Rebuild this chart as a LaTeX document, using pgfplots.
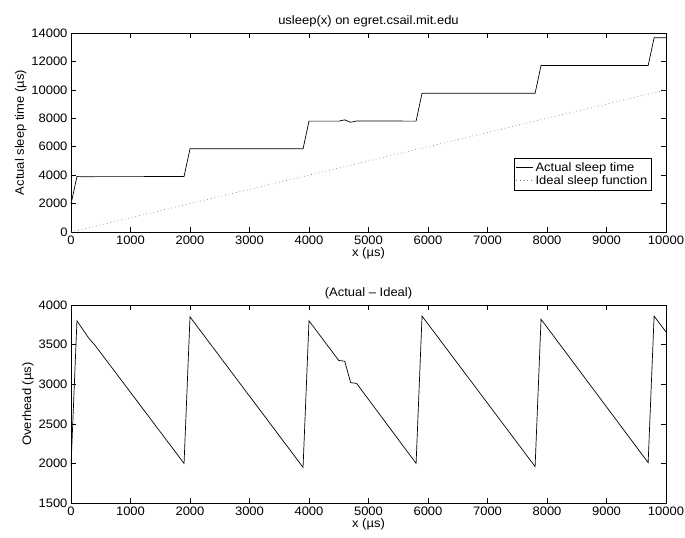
\documentclass[border=0pt]{standalone}
\usepackage{pgfplots}
\pgfplotsset{compat=1.18}
\usepackage{fontspec}
\setmainfont{Liberation Sans}[FakeStretch=1.06]

\pgfplotsset{
  mstyle/.style={
    scale only axis,
    width=595bp,
    xmin=0, xmax=10000,
    xtick={0,1000,...,10000},
    tick align=inside,
    tick pos=both,
    major tick length=5bp,
    scaled ticks=false,
    /pgf/number format/1000 sep={},
    /pgf/number format/assume math mode=true,
    tick label style={font=\fontsize{12.3}{14}\selectfont},
    label style={font=\fontsize{12.3}{14}\selectfont},
    title style={font=\fontsize{12.3}{14}\selectfont},
    axis line style={line width=0.8pt},
    every tick/.style={line width=0.6pt, black},
    xlabel={x (µs)},
    xlabel style={yshift=3bp},
    ylabel style={yshift=-2bp},
  }
}

\begin{document}
\begin{tikzpicture}
\useasboundingbox (-71bp,33bp) rectangle (614bp,-505bp);

\begin{axis}[mstyle,
  name=top, at={(0,0)}, anchor=north west,
  height=199bp,
  ymin=0, ymax=14000,
  ytick={0,2000,...,14000},
  ylabel={Actual sleep time (µs)},
  title={usleep(x) on egret.csail.mit.edu},
  title style={yshift=-4bp},
  legend style={at={(0.976,0.21)}, anchor=south east, draw=black, line width=0.6pt,
    font=\fontsize{12.3}{14}\selectfont, inner sep=2bp, row sep=-1bp},
  legend cell align=left,
]
\addplot[black, line width=0.7pt] coordinates {
(0,1960) (100,3900) (300,3880) (400,3895) (1900,3900) (2000,5850) (3900,5850)
(4000,7800) (4500,7800) (4600,7890) (4700,7720) (4800,7810) (5800,7800)
(5900,9760) (7800,9760) (7900,11720) (9700,11710) (9800,13660) (10000,13660)
};
\addlegendentry{Actual sleep time}
\addplot[gray, line width=0.7pt, dash pattern=on 0.7pt off 3pt] coordinates {
(0,0) (10000,10000)
};
\addlegendentry{Ideal sleep function}
\end{axis}

\begin{axis}[mstyle,
  at={(0,-272bp)}, anchor=north west,
  height=198bp,
  ymin=1500, ymax=4000,
  ytick={1500,2000,...,4000},
  ylabel={Overhead (µs)},
  title={(Actual -- Ideal)},
  title style={yshift=-4bp},
]
\addplot[black, line width=0.7pt] coordinates {
(0,1960) (100,3800) (300,3580) (400,3495) (1900,2000) (2000,3850) (3900,1950)
(4000,3800) (4500,3300) (4600,3290) (4700,3020) (4800,3010) (5800,2000)
(5900,3860) (7800,1960) (7900,3820) (9700,2010) (9800,3860) (10000,3660)
};
\end{axis}
\end{tikzpicture}
\end{document}
